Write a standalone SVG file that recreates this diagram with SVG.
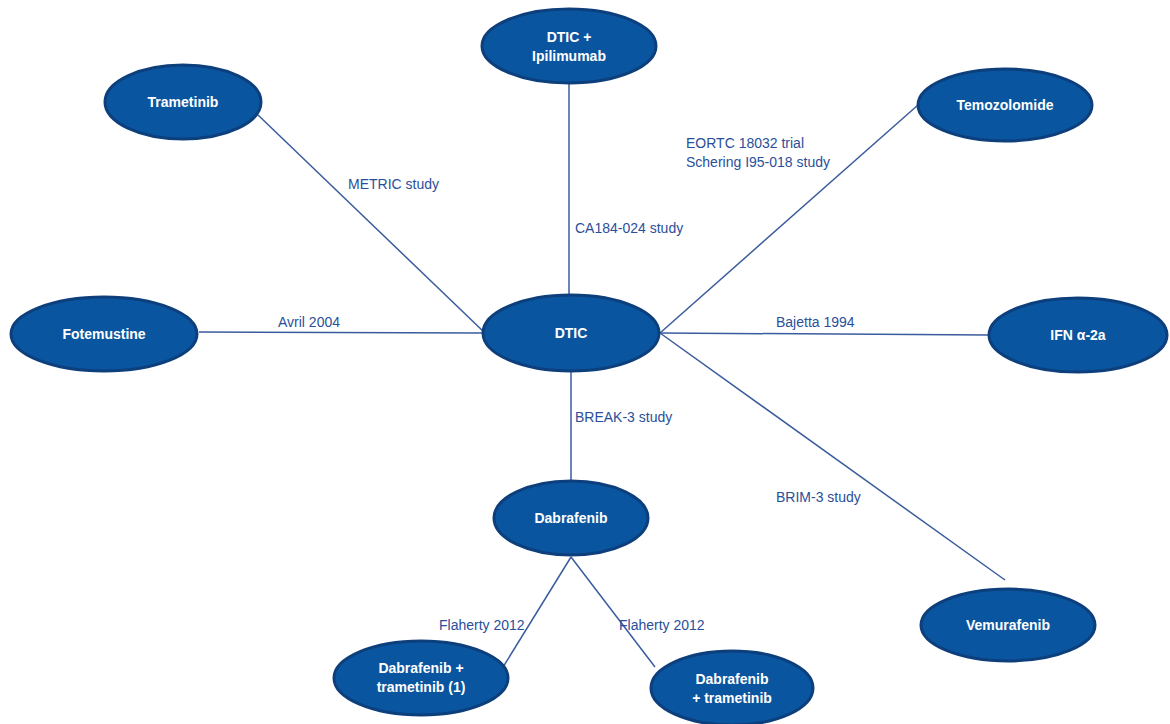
<svg xmlns="http://www.w3.org/2000/svg" width="1170" height="724" viewBox="0 0 1170 724">
<style>
.n{fill:#0a559f;stroke:#0c3f7c;stroke-width:3}
.t{font-family:"Liberation Sans",Arial,sans-serif;font-size:14px;fill:#ffffff;text-anchor:middle;font-weight:bold}
.l{font-family:"Liberation Sans",Arial,sans-serif;font-size:14px;fill:#2a4f9a}
.c line{stroke:#3a5c9e;stroke-width:1.5}
</style>
<rect width="1170" height="724" fill="#ffffff"/>
<g class="c" id="connectors">
<line x1="258" y1="115" x2="485" y2="333"/>
<line x1="569" y1="84" x2="569" y2="294"/>
<line x1="918" y1="105" x2="660" y2="333"/>
<line x1="199" y1="332" x2="482" y2="333"/>
<line x1="660" y1="333" x2="988" y2="335"/>
<line x1="660" y1="333" x2="1005" y2="580"/>
<line x1="571" y1="372" x2="571" y2="480"/>
<line x1="571" y1="557" x2="500" y2="672"/>
<line x1="571" y1="557" x2="655" y2="667"/>
</g>
<g id="labels">
<text class="l" x="348" y="189">METRIC study</text>
<text class="l" x="575" y="233">CA184-024 study</text>
<text class="l" x="686" y="148">EORTC 18032 trial</text>
<text class="l" x="686" y="167">Schering I95-018 study</text>
<text class="l" x="278" y="327">Avril 2004</text>
<text class="l" x="776" y="327">Bajetta 1994</text>
<text class="l" x="575" y="422">BREAK-3 study</text>
<text class="l" x="776" y="502">BRIM-3 study</text>
<text class="l" x="439" y="630">Flaherty 2012</text>
<text class="l" x="619" y="630">Flaherty 2012</text>
</g>
<g id="n-ipi"><ellipse class="n" cx="569" cy="46" rx="87" ry="37"/><text class="t" x="569" y="42">DTIC +</text><text class="t" x="569" y="61">Ipilimumab</text></g>
<g id="n-trametinib"><ellipse class="n" cx="183" cy="102" rx="78" ry="37"/><text class="t" x="183" y="107">Trametinib</text></g>
<g id="n-temozolomide"><ellipse class="n" cx="1005" cy="105" rx="87" ry="36"/><text class="t" x="1005" y="110">Temozolomide</text></g>
<g id="n-fotemustine"><ellipse class="n" cx="104" cy="334" rx="93" ry="37"/><text class="t" x="104" y="339">Fotemustine</text></g>
<g id="n-dtic"><ellipse class="n" cx="571" cy="333" rx="88" ry="38"/><text class="t" x="571" y="338">DTIC</text></g>
<g id="n-ifn"><ellipse class="n" cx="1078" cy="335" rx="89" ry="37"/><text class="t" x="1078" y="340">IFN α-2a</text></g>
<g id="n-dabrafenib"><ellipse class="n" cx="571" cy="518" rx="77" ry="37"/><text class="t" x="571" y="523">Dabrafenib</text></g>
<g id="n-vemurafenib"><ellipse class="n" cx="1008" cy="625" rx="87" ry="36"/><text class="t" x="1008" y="630">Vemurafenib</text></g>
<g id="n-dt1"><ellipse class="n" cx="421" cy="678" rx="87" ry="37"/><text class="t" x="421" y="673">Dabrafenib +</text><text class="t" x="421" y="692">trametinib (1)</text></g>
<g id="n-dt"><ellipse class="n" cx="732" cy="688" rx="81" ry="37"/><text class="t" x="732" y="684">Dabrafenib</text><text class="t" x="732" y="703">+ trametinib</text></g>
</svg>
